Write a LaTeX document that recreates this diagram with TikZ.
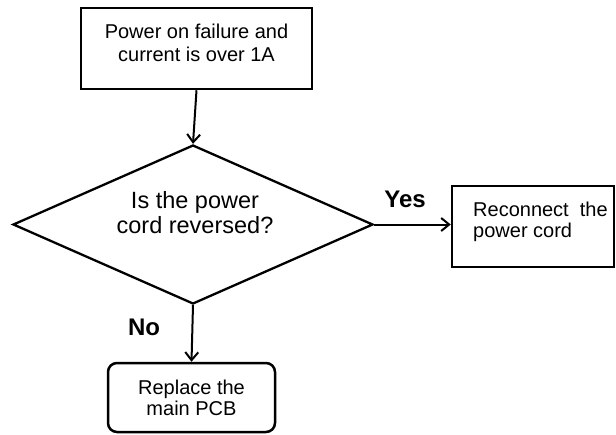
\documentclass[tikz,border=0pt]{standalone}
\usepackage{fontspec}
\setmainfont{Liberation Sans}
\usetikzlibrary{shapes.geometric,arrows.meta}
\begin{document}
\begin{tikzpicture}[x=1pt,y=-1pt,
  boxstyle/.style={draw=black,line width=2.5pt,inner sep=0pt},
  dia/.style={draw=black,line width=2.3pt,shape=diamond,inner sep=0pt,
    minimum width=360pt,minimum height=159pt},
  txt/.style={inner sep=0pt,font=\fontsize{20}{21}\selectfont},
  bigtxt/.style={inner sep=0pt,font=\fontsize{23.5}{25.5}\selectfont},
  lab/.style={inner sep=0pt,anchor=base,font=\bfseries\fontsize{24}{26}\selectfont},
  arr/.style={draw=black,line width=2pt,-{Straight Barb[length=8pt,width=13pt]}}]
\useasboundingbox (0,0) rectangle (616,434);
\clip (0,0) rectangle (616,434);
% shapes
\node[boxstyle,minimum width=231pt,minimum height=81pt] (start) at (196.5,48.5) {};
\node[txt,align=center,font=\fontsize{20}{23}\selectfont] (starttext) at (196.5,43.2)
  {Power on failure and\\current is over 1A};
\node[dia] (check) at (193,224.5) {};
\node[bigtxt,align=center] (checktext) at (195,212.5) {Is the power\\cord reversed?};
\node[boxstyle,minimum width=162pt,minimum height=81pt] (recon) at (533,226.5) {};
\node[txt,align=left,anchor=west] (recontext) at (473,222.3) {Reconnect\ \ the\\power cord};
\node[boxstyle,rounded corners=9pt,minimum width=167pt,minimum height=69pt,
  txt,align=center,draw=black,line width=2.5pt] (pcb) at (191.5,397.5) {Replace the\\main PCB};
% connectors
\draw[arr] (start.south) -- (check.north);
\draw[arr] (check.east) -- (check.east -| recon.west);
\draw[arr] (check.south) -- (pcb.north);
% labels
\node[lab] (yes) at (405,207) {Yes};
\node[lab] (no) at (144,335) {No};
\end{tikzpicture}
\end{document}
